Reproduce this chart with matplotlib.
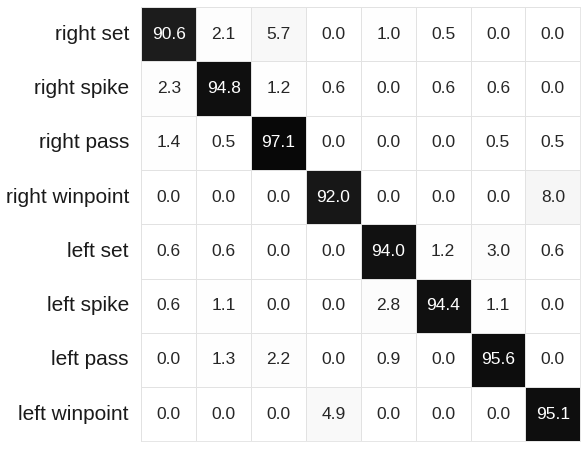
import matplotlib
matplotlib.use('Agg')
import matplotlib.pyplot as plt
import numpy as np
import seaborn as sns

plt.rcParams['font.family'] = ['Liberation Sans', 'DejaVu Sans']

labels = ['right set', 'right spike', 'right pass', 'right winpoint',
          'left set', 'left spike', 'left pass', 'left winpoint']

row_right_set = [90.6, 2.1, 5.7, 0.0, 1.0, 0.5, 0.0, 0.0]
row_right_spike = [2.3, 94.8, 1.2, 0.6, 0.0, 0.6, 0.6, 0.0]
row_right_pass = [1.4, 0.5, 97.1, 0.0, 0.0, 0.0, 0.5, 0.5]
row_right_winpoint = [0.0, 0.0, 0.0, 92.0, 0.0, 0.0, 0.0, 8.0]
row_left_set = [0.6, 0.6, 0.0, 0.0, 94.0, 1.2, 3.0, 0.6]
row_left_spike = [0.6, 1.1, 0.0, 0.0, 2.8, 94.4, 1.1, 0.0]
row_left_pass = [0.0, 1.3, 2.2, 0.0, 0.9, 0.0, 95.6, 0.0]
row_left_winpoint = [0.0, 0.0, 0.0, 4.9, 0.0, 0.0, 0.0, 95.1]

cm = np.array([row_right_set, row_right_spike, row_right_pass, row_right_winpoint,
               row_left_set, row_left_spike, row_left_pass, row_left_winpoint])

fig = plt.figure(figsize=(5.82, 4.49), dpi=100)
ax = fig.add_axes([0.243, 0.017, 0.754, 0.967])
sns.heatmap(cm, ax=ax, cmap='Greys', vmin=0, vmax=100, annot=True, fmt='.1f',
            cbar=False, linewidths=0.6, linecolor='#e2e2e2',
            annot_kws={'fontsize': 12.5},
            xticklabels=False, yticklabels=labels)
ax.tick_params(axis='y', length=0, labelsize=15, pad=9)
ax.set_yticklabels(labels, rotation=0, color='#1a1a1a')
for t in ax.texts:
    if t.get_color() != 'w' and t.get_color() != '#ffffff':
        pass
for s in ax.spines.values():
    s.set_visible(True)
    s.set_color('#e2e2e2')
    s.set_linewidth(0.6)

fig.savefig('out.png', dpi=100)
